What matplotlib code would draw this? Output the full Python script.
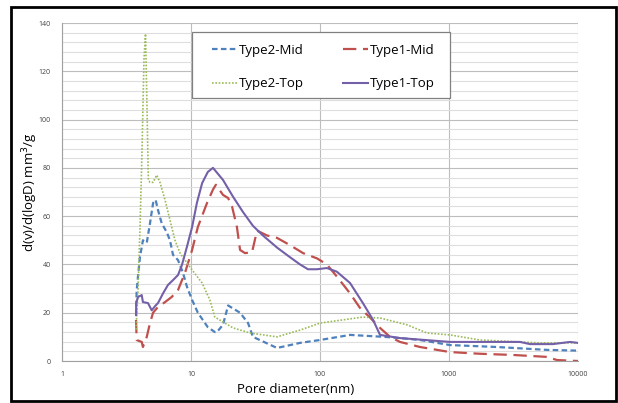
import matplotlib
matplotlib.use("Agg")
import matplotlib.pyplot as plt
from matplotlib.patches import Rectangle
from matplotlib.ticker import MultipleLocator, FixedLocator, FixedFormatter

plt.rcParams['font.family'] = ['Open Sans', 'DejaVu Sans']

# pore size distribution curves
t2mid_d = [3.75, 3.79, 3.88, 4.02, 4.24, 4.54, 4.81, 5.08, 5.32, 5.55, 5.93, 6.48, 6.87, 7.25,
           7.93, 8.67, 9.31, 10.2, 11.3, 13.5, 15.3, 15.9, 17.7, 19.4, 20.8, 24.0, 27.7, 30.2,
           46.4, 70, 100, 171, 315, 417, 596, 1018, 2355, 5754, 10000]
t2mid_v = [19, 29, 35, 43, 50, 49, 57, 65.4, 66.7, 62.5, 57, 53.4, 50, 44,
           41.8, 36.5, 30.7, 25.3, 20, 14, 12, 12, 15, 23, 22, 20, 15.7, 10,
           5.4, 7.5, 8.7, 10.8, 10, 9.5, 8.7, 6.6, 5.8, 4.6, 4.3]

t1mid_d = [3.75, 3.79, 4.15, 4.24, 4.54, 4.81, 5.08, 5.55, 6.29, 7.08, 7.93, 8.98, 10.2, 11.3,
           13.3, 14.8, 15.6, 17.7, 19.4, 20.8, 22.7, 24.0, 26.2, 29.7, 32.5, 38.8, 46.4, 58.5,
           73.8, 94.8, 113, 135, 171, 204, 244, 292, 349, 417, 596, 1018, 1738, 3133, 5754,
           6874, 10000]
t1mid_v = [17, 8.7, 7.9, 5.8, 10, 15.7, 20, 22.4, 24.4, 26.5, 29.4, 36.5, 46, 55.5,
           65.4, 71, 73, 68.8, 67.5, 64, 55.5, 46, 44.7, 45, 54, 52, 51, 48,
           44.7, 42.5, 40, 35, 28, 22, 18, 13.7, 10, 7.9, 5.8, 3.7, 3.0, 2.5, 1.7,
           0.4, 0]

t2top_d = [3.75, 3.88, 4.02, 4.17, 4.32, 4.44, 4.54, 4.67, 4.81, 5.08, 5.42, 5.75, 6.29, 6.87,
           7.51, 8.22, 9.31, 10.2, 12.2, 14.0, 15.3, 21.2, 28.7, 46.4, 70, 100, 215, 292,
           472, 675, 1018, 1738, 5070, 10000]
t2top_v = [13, 29, 54, 87, 125, 135.5, 110, 75, 74, 74, 77, 74, 66.7, 58.4,
           50, 44.7, 40.6, 37.7, 32.3, 25.3, 18.2, 13.7, 11.6, 10, 12.8, 15.7, 18.2, 17.8,
           15, 11.6, 10.8, 8.7, 7.5, 7.5]

t1top_d = [3.75, 3.76, 3.88, 4.15, 4.24, 4.64, 4.96, 5.32, 5.55, 6.07, 6.63, 7.25, 7.93, 8.51,
           9.31, 10.2, 11.1, 12.2, 13.5, 14.8, 17.7, 21.2, 25.3, 30.2, 36.1, 46.4, 58.5, 70,
           80.7, 94.8, 113, 135, 171, 215, 258, 292, 417, 1018, 3548, 4245, 6400, 8670, 10000]
t1top_v = [19, 24, 26.5, 27.3, 24.4, 24, 21, 23, 24, 28, 31.5, 33.5, 35.6, 39.8,
           47.4, 55.5, 65.4, 73.7, 78.3, 80, 75, 68, 61.7, 56, 52, 47, 43, 40,
           38, 38, 38.5, 37, 32.3, 24, 17, 10.8, 9.5, 7.9, 7.9, 7.0, 7.0, 7.9, 7.5]

x_ticks = [1, 10, 100, 1000, 10000]
x_labels = ['1', '10', '100', '1000', '10000']

fig = plt.figure(figsize=(6.18, 4.03), dpi=100)
ax = fig.add_axes([62/618, 1 - 361/403, 516/618, 338/403])

l1, = ax.plot(t2mid_d, t2mid_v, color='#4F81BD', lw=1.6, ls=(0, (2.5, 1.5)), label='Type2-Mid')
l2, = ax.plot(t1mid_d, t1mid_v, color='#C0504D', lw=1.6, ls=(0, (6, 3)), label='Type1-Mid')
l3, = ax.plot(t2top_d, t2top_v, color='#9BBB59', lw=1.2, ls=(0, (1, 1)), label='Type2-Top')
l4, = ax.plot(t1top_d, t1top_v, color='#7460A8', lw=1.5, ls='-', label='Type1-Top')

ax.set_xscale('log')
ax.set_xlim(1, 10000)
ax.set_ylim(0, 140)
ax.xaxis.set_major_locator(FixedLocator(x_ticks))
ax.xaxis.set_major_formatter(FixedFormatter(x_labels))
ax.xaxis.set_minor_locator(FixedLocator([]))
ax.yaxis.set_major_locator(MultipleLocator(20))
ax.yaxis.set_minor_locator(MultipleLocator(4))

ax.grid(which='major', axis='both', color='#bdbdbd', lw=0.8)
ax.grid(which='minor', axis='y', color='#dedede', lw=0.8)
ax.set_axisbelow(True)
for s in ax.spines.values():
    s.set_visible(False)
ax.spines['left'].set_visible(True)
ax.spines['bottom'].set_visible(True)
ax.spines['left'].set_color('#a0a0a0')
ax.spines['bottom'].set_color('#a0a0a0')

ax.tick_params(which='both', length=0, labelsize=5, labelcolor='#404040')
ax.tick_params(axis='y', pad=8)
ax.tick_params(axis='x', pad=7)

ax.set_xlabel('Pore diameter(nm)', fontsize=9.5)
ax.set_ylabel('d(v)/d(logD) mm$^3$/g', fontsize=9.5)
ax.xaxis.set_label_coords(0.453, -0.065)
ax.yaxis.set_label_coords(-0.042, 0.5)

# legend box drawn by hand so the padding matches
ax.add_patch(Rectangle((0.252, 0.778), 0.5, 0.195, transform=ax.transAxes,
                       facecolor='white', edgecolor='#808080', lw=0.9, zorder=5))
leg = ax.legend(handles=[l1, l3, l2, l4], ncol=2, loc='upper left',
                bbox_to_anchor=(0.2907, 0.938), fontsize=9.5, frameon=False,
                handlelength=1.9, handletextpad=0.15, labelspacing=1.53, columnspacing=2.95,
                borderpad=0, borderaxespad=0)
leg.set_zorder(6)

# black frame round the chart area
fig.patches.append(Rectangle((11/618, 1 - 401/403), 605/618, 394/403, transform=fig.transFigure,
                             fill=False, edgecolor='black', lw=2))

fig.savefig('out.png', dpi=100)
